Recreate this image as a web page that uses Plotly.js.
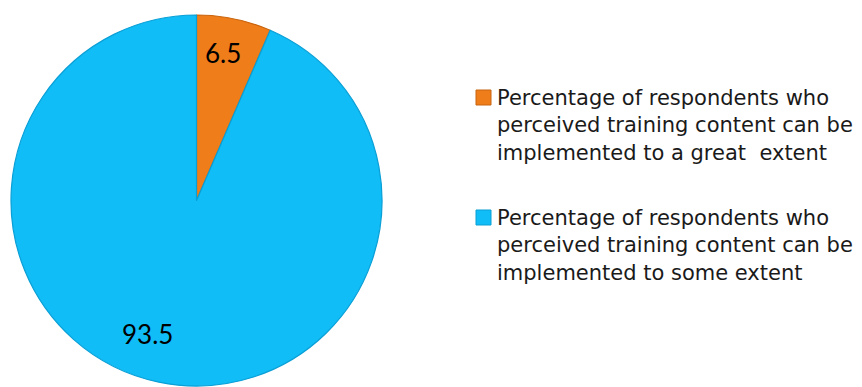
<!DOCTYPE html>
<html>
<head>
<meta charset="utf-8">
<script src="https://cdn.plot.ly/plotly-3.0.1.min.js"></script>
<style>html,body{margin:0;padding:0;background:#fff}#chart{width:862px;height:387px}</style>
</head>
<body>
<div id="chart"></div>
<script>
var labels = [
  "Percentage of respondents who<br>perceived training content can be<br>implemented to a great  extent",
  "Percentage of respondents who<br>perceived training content can be<br>implemented to some extent"
];
var values = [6.5, 93.5];
var colors = ["#EF7D1A", "#10BDF6"];
var edgeColors = ["#C9640E", "#0A9FD6"];

var W = 862, H = 387;
var trace = {
  type: "pie",
  labels: labels,
  values: values,
  sort: false,
  direction: "clockwise",
  rotation: 0,
  marker: {colors: colors, line: {color: edgeColors, width: 1.2}},
  textinfo: "none",
  domain: {x: [11 / W, 382 / W], y: [1 / H, 372 / H]},
  showlegend: false,
  hoverinfo: "label+value"
};

// value labels placed on the slices
var labelPos = [[223, 53], [147, 334]];
var annotations = [];
for (var k = 0; k < values.length; k++) {
  annotations.push({
    xref: "paper", yref: "paper",
    x: labelPos[k][0] / W, y: 1 - labelPos[k][1] / H,
    xanchor: "center", yanchor: "middle", showarrow: false,
    text: String(values[k]),
    font: {family: "Lato, sans-serif", size: 26, color: "#000"}
  });
}

var shapes = [];
var legendMid = [125, 245];
var legendFirst = [98, 218];
for (var i = 0; i < labels.length; i++) {
  annotations.push({
    xref: "paper", yref: "paper",
    x: 495 / W, y: 1 - legendMid[i] / H,
    xanchor: "left", yanchor: "middle",
    align: "left", showarrow: false,
    text: labels[i],
    font: {family: "DejaVu Sans, sans-serif", size: 21, color: "#1a1a1a"}
  });
  shapes.push({
    type: "rect", xref: "paper", yref: "paper",
    x0: 476 / W, x1: 491 / W,
    y0: 1 - (legendFirst[i] - 8) / H, y1: 1 - (legendFirst[i] + 7) / H,
    fillcolor: colors[i], line: {color: edgeColors[i], width: 1}
  });
}

var layout = {
  width: W, height: H,
  margin: {l: 0, r: 0, t: 0, b: 0},
  paper_bgcolor: "#fff",
  showlegend: false,
  annotations: annotations,
  shapes: shapes
};
Plotly.newPlot("chart", [trace], layout, {displayModeBar: false, staticPlot: true});
</script>
</body>
</html>
